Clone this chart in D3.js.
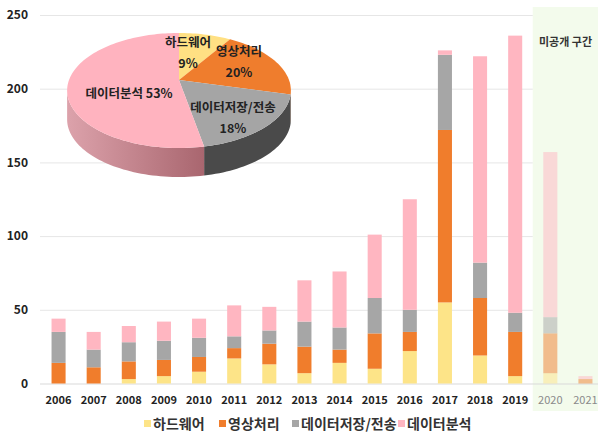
<!DOCTYPE html>
<html>
  <head>
    <meta charset="utf-8">
    <script src="https://cdn.jsdelivr.net/npm/d3@7"></script>
    <style>
      body { margin: 0; background: #fff; }
      text { font-family: "Noto Sans CJK KR", "Noto Sans", sans-serif; }
    </style>
  </head>
  <body>
<svg id="chart" width="598" height="435"></svg>
<script>
var years = ['2006', '2007', '2008', '2009', '2010', '2011', '2012', '2013',
  '2014', '2015', '2016', '2017', '2018', '2019', '2020', '2021'];
var hiddenYears = ['2020', '2021'];

var hardware = [0, 0, 3, 5, 8, 17, 13, 7, 14, 10, 22, 55, 19, 5, 7, 0];
var video    = [14, 11, 12, 11, 10, 7, 14, 18, 9, 24, 13, 117, 39, 30, 27, 3];
var storage  = [21, 12, 13, 13, 13, 8, 9, 17, 15, 24, 15, 51, 24, 13, 11, 0];
var analysis = [9, 12, 11, 13, 13, 21, 16, 28, 38, 43, 75, 3, 140, 188, 112, 2];

var seriesNames = ['하드웨어', '영상처리', '데이터저장/전송', '데이터분석'];
var seriesKeys = ['hw', 'video', 'storage', 'analysis'];
var colors = ['#fde488', '#f07d2c', '#a6a6a6', '#ffb6c1'];

var yTicks = [0, 50, 100, 150, 200, 250];

var pieShares = [9, 20, 18, 53];

var svg = d3.select('#chart');

var x = d3.scaleBand().domain(years).range([41, 603]).paddingInner(0.6).paddingOuter(0.3);
var y = d3.scaleLinear().domain([0, 250]).range([383.5, 15]);

// shaded "not yet published" region
var x2020 = x('2020') - (x.step() - x.bandwidth()) / 2;
svg.append('rect')
  .attr('x', x2020).attr('y', 7)
  .attr('width', 598 - x2020).attr('height', 404)
  .attr('fill', '#f3fbec');

// gridlines
svg.append('g').selectAll('line').data(yTicks.slice(1))
  .enter().append('line')
    .attr('x1', 40).attr('x2', x2020)
    .attr('y1', function (d) { return y(d) + 0.5; })
    .attr('y2', function (d) { return y(d) + 0.5; })
    .attr('stroke', '#e6e6e6');
svg.append('line')
  .attr('x1', 40).attr('x2', 598)
  .attr('y1', y(0) + 0.5).attr('y2', y(0) + 0.5)
  .attr('stroke', '#d9d9d9');

// y tick labels
svg.append('g').selectAll('text').data(yTicks)
  .enter().append('text')
    .attr('x', 28)
    .attr('y', function (d) { return y(d); })
    .attr('dy', '0.35em')
    .attr('text-anchor', 'end')
    .attr('font-size', 12).attr('font-weight', 700)
    .attr('fill', '#222')
    .text(function (d) { return d; });

// stacked bars
var rows = years.map(function (yr, i) {
  return { year: yr, hw: hardware[i], video: video[i], storage: storage[i], analysis: analysis[i] };
});
var stacked = d3.stack().keys(seriesKeys)(rows);

svg.append('g').selectAll('g').data(stacked)
  .enter().append('g')
    .attr('fill', function (d, i) { return colors[i]; })
  .selectAll('rect').data(function (d) { return d; })
  .enter().append('rect')
    .attr('x', function (d) { return x(d.data.year); })
    .attr('width', x.bandwidth())
    .attr('y', function (d) { return y(d[1]); })
    .attr('height', function (d) { return y(d[0]) - y(d[1]); })
    .attr('opacity', function (d) { return hiddenYears.indexOf(d.data.year) >= 0 ? 0.5 : 1; });

// x labels
svg.append('g').selectAll('text').data(years)
  .enter().append('text')
    .attr('x', function (d) { return x(d) + x.bandwidth() / 2; })
    .attr('y', 400)
    .attr('dy', '0.35em')
    .attr('text-anchor', 'middle')
    .attr('font-size', 11)
    .attr('font-weight', function (d) { return hiddenYears.indexOf(d) >= 0 ? 400 : 700; })
    .attr('fill', function (d) { return hiddenYears.indexOf(d) >= 0 ? '#8a8a8a' : '#222'; })
    .text(function (d) { return d; });

svg.append('text')
  .attr('x', 539).attr('y', 42).attr('dy', '0.35em')
  .attr('font-size', 11).attr('font-weight', 700).attr('fill', '#333')
  .text('미공개 구간');

// legend
var legendX = [144, 219, 292, 398];
var legend = svg.append('g').selectAll('g').data(seriesNames)
  .enter().append('g')
    .attr('transform', function (d, i) { return 'translate(' + legendX[i] + ',424)'; });
legend.append('rect')
  .attr('x', 0).attr('y', -4).attr('width', 7).attr('height', 7)
  .attr('fill', function (d, i) { return colors[i]; });
legend.append('text')
  .attr('x', 9).attr('dy', '0.35em')
  .attr('font-size', 14).attr('font-weight', 700).attr('fill', '#333')
  .text(function (d) { return d; });

// 3d pie, simple perspective: far edge compressed, near edge stretched
var cx = 179, apexY = 80, rx = 110, ryA = 55.6, persp = 0.1826, depth = 29;
var pieColors = ['#ffe083', '#ef7d2d', '#a5a5a5', '#ffb3bf'];
var sideColors = ['#c9a94e', '#b85a1c', '#4a4a4a', 'url(#pinkSide)'];

var defs = svg.append('defs');
var grad = defs.append('linearGradient').attr('id', 'pinkSide')
  .attr('x1', '0%').attr('x2', '100%').attr('y1', '0%').attr('y2', '0%');
grad.append('stop').attr('offset', '0%').attr('stop-color', '#dca2ab');
grad.append('stop').attr('offset', '100%').attr('stop-color', '#a9666f');

function edge(a, dy) {
  var u = Math.sin(a), v = -Math.cos(a), s = 1 - persp * v;
  return [cx + rx * u / s, apexY + ryA * v / s + (dy || 0)];
}
function arcPts(a0, a1, dy) {
  var n = Math.max(2, Math.ceil((a1 - a0) / 0.03));
  return d3.range(n + 1).map(function (k) { return edge(a0 + (a1 - a0) * k / n, dy); });
}

var arcs = d3.pie().sort(null)(pieShares);
var pieG = svg.append('g');

// sides: visible between the two widest points of the rim
var sideStart = Math.acos(-persp), sideEnd = 2 * Math.PI - sideStart;
arcs.forEach(function (d, i) {
  var a0 = Math.max(d.startAngle, sideStart);
  var a1 = Math.min(d.endAngle, sideEnd);
  if (a1 <= a0) return;
  var top = arcPts(a0, a1, 0);
  var bottom = arcPts(a0, a1, depth).reverse();
  pieG.append('path')
    .attr('d', d3.line()(top.concat(bottom)) + 'Z')
    .attr('fill', sideColors[i]);
});

// top face
arcs.forEach(function (d, i) {
  var pts = [[cx, apexY]].concat(arcPts(d.startAngle, d.endAngle, 0));
  pieG.append('path')
    .attr('d', d3.line()(pts) + 'Z')
    .attr('fill', pieColors[i]);
});

var pieLabels = [
  { lines: ['하드웨어', '9%'], x: 188, y: 43 },
  { lines: ['영상처리', '20%'], x: 239, y: 52 },
  { lines: ['데이터저장/전송', '18%'], x: 233, y: 108 },
  { lines: ['데이터분석 53%'], x: 129, y: 94 }
];
pieLabels.forEach(function (l) {
  l.lines.forEach(function (t, k) {
    pieG.append('text')
      .attr('x', l.x).attr('y', l.y + k * 21)
      .attr('dy', '0.35em')
      .attr('text-anchor', 'middle')
      .attr('font-size', 12.5).attr('font-weight', 700).attr('fill', '#222')
      .text(t);
  });
});
</script>
</body>
</html>
